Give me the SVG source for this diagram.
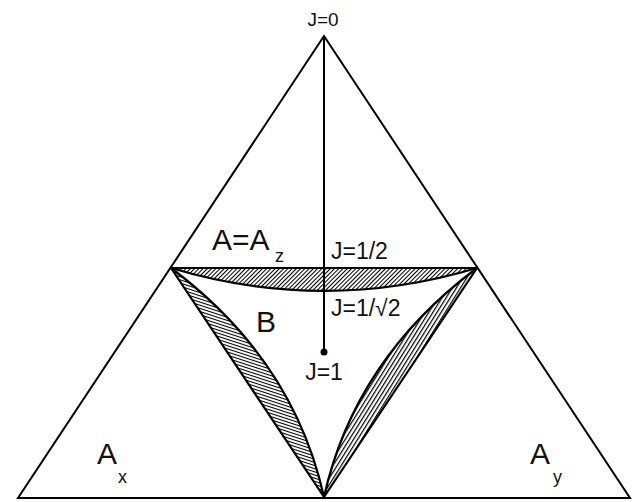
<svg xmlns="http://www.w3.org/2000/svg" width="632" height="502" viewBox="0 0 632 502">
<style>
.ln{fill:none;stroke:#000;stroke-width:2;stroke-linejoin:miter}
.lens{stroke:#000;stroke-width:2.2;stroke-linejoin:round}
.t{font-family:"Liberation Sans",Arial,sans-serif;fill:#111}
.j0{font-size:19px}
.j{font-size:23px}
.big{font-size:30px}
.sub{font-size:18px}
</style>
<defs>
<pattern id="hTop" width="3" height="3" patternUnits="userSpaceOnUse" patternTransform="rotate(45)">
<rect width="3" height="3" fill="#fff"/><line x1="0.5" y1="0" x2="0.5" y2="3" stroke="#000" stroke-width="1.1"/>
</pattern>
<pattern id="hLeft" width="3" height="3" patternUnits="userSpaceOnUse" patternTransform="rotate(18)">
<rect width="3" height="3" fill="#fff"/><line x1="0" y1="0.5" x2="3" y2="0.5" stroke="#000" stroke-width="1.1"/>
</pattern>
<pattern id="hRight" width="3.5" height="3.5" patternUnits="userSpaceOnUse" patternTransform="rotate(-58)">
<rect width="3.5" height="3.5" fill="#fff"/><line x1="0" y1="0.6" x2="3.5" y2="0.6" stroke="#000" stroke-width="1.2"/>
</pattern>
</defs>
<rect width="632" height="502" fill="#fff"/>
<g id="outer-triangle">
<polygon class="ln" points="324,36 18,498 630,498"/>
</g>
<g id="lens-top">
<path class="lens" fill="url(#hTop)" d="M171,268 L477,268 Q324,313.8 171,268 Z"/>
</g>
<g id="lens-left">
<path class="lens" fill="url(#hLeft)" d="M171,268 L324,497 Q293.4,359.6 171,268 Z"/>
</g>
<g id="lens-right">
<path class="lens" fill="url(#hRight)" d="M477,268 L324,497 Q354.6,359.6 477,268 Z"/>
</g>
<g id="connectors">
<line class="ln" x1="324" y1="36" x2="324" y2="352"/>
<circle cx="324" cy="352" r="3.5" fill="#000"/>
</g>
<g id="labels">
<text class="t j0" x="323" y="26" text-anchor="middle">J=0</text>
<text class="t big" x="212" y="250">A=A</text>
<text class="t sub" x="275" y="262">z</text>
<text class="t j" x="331" y="259">J=1/2</text>
<text class="t j" x="331" y="316">J=1/√2</text>
<text class="t big" x="256" y="332">B</text>
<text class="t j" x="324" y="380" text-anchor="middle">J=1</text>
<text class="t big" x="97" y="464">A</text>
<text class="t sub" x="118" y="483">x</text>
<text class="t big" x="530" y="464">A</text>
<text class="t sub" x="553" y="483">y</text>
</g>
</svg>
